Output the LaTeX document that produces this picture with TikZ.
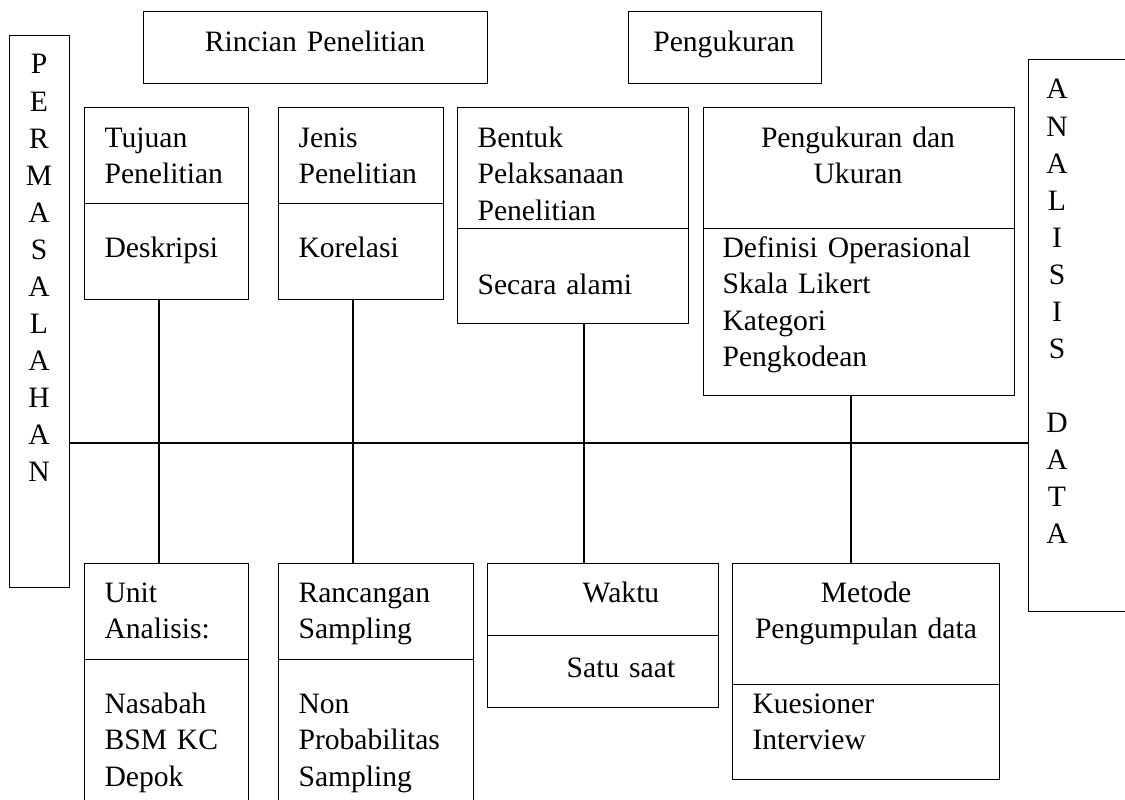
\documentclass[tikz,border=0pt]{standalone}
\usepackage{fontspec}
\setmainfont{Liberation Serif}
\usepackage{tikz}

\begin{document}
\begin{tikzpicture}[x=1pt, y=-1pt, line width=1.1pt,
  font=\fontsize{29.6}{36.6}\selectfont,
  part/.style={draw, anchor=north west, inner sep=0},
  txt/.style={anchor=base west, inner sep=0, text width=260, align=left},
  ctxt/.style={anchor=base, inner sep=0, text width=300, align=center},
  letter/.style={anchor=base, inner sep=0}]
  \useasboundingbox (0,0) rectangle (1125,800);
  \node [part, minimum width=60, minimum height=552] (perm) at (9,35) {};
  \node [part, minimum width=130, minimum height=552] (analisis) at (1028,59) {};
  \node [part, minimum width=344, minimum height=72] (rincian) at (143,11) {};
  \node [part, minimum width=193, minimum height=72] (ukur) at (628,11) {};
  \node [part, minimum width=164, minimum height=96] (tujuan) at (84,107) {};
  \node [part, minimum width=164, minimum height=96] (tujuanisi) at (84,203) {};
  \node [part, minimum width=165, minimum height=96] (jenis) at (278,107) {};
  \node [part, minimum width=165, minimum height=96] (jenisisi) at (278,203) {};
  \node [part, minimum width=231, minimum height=121] (bentuk) at (457,107) {};
  \node [part, minimum width=231, minimum height=95] (bentukisi) at (457,228) {};
  \node [part, minimum width=311, minimum height=121] (ukuran) at (703,107) {};
  \node [part, minimum width=311, minimum height=167] (ukuranisi) at (703,228) {};
  \node [part, minimum width=164, minimum height=96] (unit) at (84,563) {};
  \node [part, minimum width=164, minimum height=200] (unitisi) at (84,659) {};
  \node [part, minimum width=195, minimum height=96] (ranc) at (278,563) {};
  \node [part, minimum width=195, minimum height=200] (rancisi) at (278,659) {};
  \node [part, minimum width=231, minimum height=72] (waktu) at (487,563) {};
  \node [part, minimum width=231, minimum height=72] (waktuisi) at (487,635) {};
  \node [part, minimum width=267, minimum height=121] (metode) at (732,563) {};
  \node [part, minimum width=267, minimum height=95] (metodeisi) at (732,684) {};

  \foreach \c [count=\i from 0] in {P,E,R,M,A,S,A,L,A,H,A,N}
    \node [letter] (p\i) at (39, 74+37*\i) {\c};
  \foreach \c [count=\i from 0] in {A,N,A,L,I,S,I,S}
    \node [letter] (a\i) at (1057, 99+37*\i) {\c};
  \foreach \c [count=\i from 0] in {D,A,T,A}
    \node [letter] (d\i) at (1057, 432+37*\i) {\c};

  \node [ctxt] (t-rincian) at (315,52) {Rincian Penelitian};
  \node [ctxt] (t-ukur) at (724,52) {Pengukuran};
  \node [txt] (t-tujuan) at (104,147) {Tujuan\\Penelitian};
  \node [txt] (t-tujuanisi) at (104,257) {Deskripsi};
  \node [txt] (t-jenis) at (298,147) {Jenis\\Penelitian};
  \node [txt] (t-jenisisi) at (298,257) {Korelasi};
  \node [txt] (t-bentuk) at (477,147) {Bentuk\\Pelaksanaan\\Penelitian};
  \node [txt] (t-bentukisi) at (477,294) {Secara alami};
  \node [ctxt] (t-ukuran) at (858,147) {Pengukuran dan\\Ukuran};
  \node [txt] (t-ukuranisi) at (722,257) {Definisi Operasional\\Skala Likert\\Kategori\\Pengkodean};
  \node [txt] (t-unit) at (104,602) {Unit\\Analisis:};
  \node [txt] (t-unitisi) at (104,713) {Nasabah\\BSM KC\\Depok};
  \node [txt] (t-ranc) at (298,602) {Rancangan\\Sampling};
  \node [txt] (t-rancisi) at (298,713) {Non\\Probabilitas\\Sampling};
  \node [ctxt] (t-waktu) at (621,602) {Waktu};
  \node [ctxt] (t-waktuisi) at (621,677) {Satu saat};
  \node [ctxt] (t-metode) at (866,602) {Metode\\Pengumpulan data};
  \node [txt] (t-metodeisi) at (752,713) {Kuesioner\\Interview};

  \coordinate (spine) at (0,443);
  \draw (perm.east |- spine) -- (analisis.west |- spine);
  \draw ([xshift=75]tujuanisi.south west) -- ([xshift=75]unit.north west);
  \draw ([xshift=75]jenisisi.south west) -- ([xshift=75]ranc.north west);
  \draw ([xshift=127]bentukisi.south west) -- ([xshift=127]bentukisi.south west |- waktu.north);
  \draw ([xshift=148]ukuranisi.south west) -- ([xshift=148]ukuranisi.south west |- metode.north);
\end{tikzpicture}
\end{document}
